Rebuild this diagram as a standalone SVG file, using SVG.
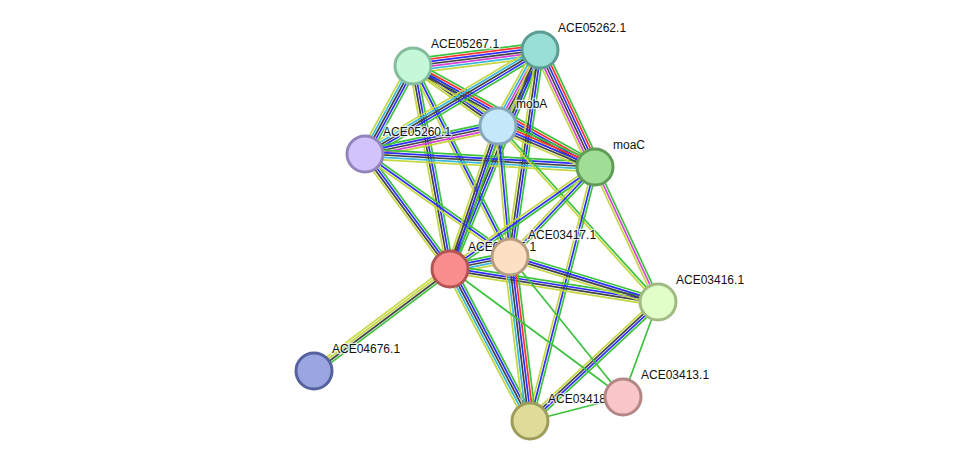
<svg xmlns="http://www.w3.org/2000/svg" width="976" height="467" viewBox="0 0 976 467">
<style>
#edges line{stroke-width:1.7;vector-effect:non-scaling-stroke;fill:none}
.g{stroke:#3cc23c}.r{stroke:#ff3030}.b{stroke:#2d2dff}.k{stroke:#444}.m{stroke:#d642d6}.c{stroke:#38b8dc}.y{stroke:#c4d642}
.node circle{stroke-width:3}
.node text{font-family:"Liberation Sans",Arial,sans-serif;font-size:12px;fill:#111;stroke:#fff;stroke-width:2.5;stroke-opacity:0.75;paint-order:stroke}
</style>
<rect width="976" height="467" fill="#fff"/>
<g id="edges">
<!-- A-B -->
<g transform="matrix(127 -16 0.125 0.992 413 66)"><line x2="1" y1="-7.2" y2="-7.2" class="g"/><line x2="1" y1="-4.8" y2="-4.8" class="r"/><line x2="1" y1="-2.4" y2="-2.4" class="b"/><line x2="1" class="k"/><line x2="1" y1="2.4" y2="2.4" class="m"/><line x2="1" y1="4.8" y2="4.8" class="c"/><line x2="1" y1="7.2" y2="7.2" class="y"/></g>
<!-- A-M -->
<g transform="matrix(85 60 -0.5767 0.817 413 66)"><line x2="1" y1="-3.6" y2="-3.6" class="g"/><line x2="1" y1="-1.2" y2="-1.2" class="b"/><line x2="1" y1="1.2" y2="1.2" class="k"/><line x2="1" y1="3.6" y2="3.6" class="y"/></g>
<!-- A-K -->
<g transform="matrix(182 101 -0.4852 0.8744 413 66)"><line x2="1" y1="-4.8" y2="-4.8" class="g"/><line x2="1" y1="-2.4" y2="-2.4" class="r"/><line x2="1" class="b"/><line x2="1" y1="2.4" y2="2.4" class="k"/><line x2="1" y1="4.8" y2="4.8" class="y"/></g>
<!-- A-C -->
<g transform="matrix(-48 88 -0.8779 -0.4789 413 66)"><line x2="1" y1="-4.8" y2="-4.8" class="g"/><line x2="1" y1="-2.4" y2="-2.4" class="b"/><line x2="1" class="k"/><line x2="1" y1="2.4" y2="2.4" class="c"/><line x2="1" y1="4.8" y2="4.8" class="y"/></g>
<!-- A-R -->
<g transform="matrix(37 203 -0.9838 0.1793 413 66)"><line x2="1" y1="-3.6" y2="-3.6" class="g"/><line x2="1" y1="-1.2" y2="-1.2" class="b"/><line x2="1" y1="1.2" y2="1.2" class="k"/><line x2="1" y1="3.6" y2="3.6" class="y"/></g>
<!-- A-P -->
<g transform="matrix(97 191 -0.8916 0.4528 413 66)"><line x2="1" y1="-2.4" y2="-2.4" class="g"/><line x2="1" class="b"/><line x2="1" y1="2.4" y2="2.4" class="y"/></g>
<!-- B-C -->
<g transform="matrix(-175 104 -0.5109 -0.8597 540 50)"><line x2="1" y1="-4.8" y2="-4.8" class="g"/><line x2="1" y1="-2.4" y2="-2.4" class="b"/><line x2="1" class="k"/><line x2="1" y1="2.4" y2="2.4" class="c"/><line x2="1" y1="4.8" y2="4.8" class="y"/></g>
<!-- B-M -->
<g transform="matrix(-42 76 -0.8753 -0.4837 540 50)"><line x2="1" y1="-6" y2="-6" class="g"/><line x2="1" y1="-3.6" y2="-3.6" class="b"/><line x2="1" y1="-1.2" y2="-1.2" class="k"/><line x2="1" y1="1.2" y2="1.2" class="m"/><line x2="1" y1="3.6" y2="3.6" class="c"/><line x2="1" y1="6" y2="6" class="y"/></g>
<!-- B-K -->
<g transform="matrix(55 117 -0.905 0.4254 540 50)"><line x2="1" y1="-6" y2="-6" class="g"/><line x2="1" y1="-3.6" y2="-3.6" class="r"/><line x2="1" y1="-1.2" y2="-1.2" class="b"/><line x2="1" y1="1.2" y2="1.2" class="k"/><line x2="1" y1="3.6" y2="3.6" class="m"/><line x2="1" y1="6" y2="6" class="y"/></g>
<!-- B-R -->
<g transform="matrix(-90 219 -0.925 -0.3801 540 50)"><line x2="1" y1="-3.6" y2="-3.6" class="g"/><line x2="1" y1="-1.2" y2="-1.2" class="b"/><line x2="1" y1="1.2" y2="1.2" class="k"/><line x2="1" y1="3.6" y2="3.6" class="y"/></g>
<!-- B-P -->
<g transform="matrix(-30 207 -0.9897 -0.1434 540 50)"><line x2="1" y1="-3.6" y2="-3.6" class="g"/><line x2="1" y1="-1.2" y2="-1.2" class="b"/><line x2="1" y1="1.2" y2="1.2" class="k"/><line x2="1" y1="3.6" y2="3.6" class="y"/></g>
<!-- C-M -->
<g transform="matrix(133 -28 0.206 0.9786 365 154)"><line x2="1" y1="-4.8" y2="-4.8" class="g"/><line x2="1" y1="-2.4" y2="-2.4" class="b"/><line x2="1" class="k"/><line x2="1" y1="2.4" y2="2.4" class="m"/><line x2="1" y1="4.8" y2="4.8" class="y"/></g>
<!-- C-K -->
<g transform="matrix(230 13 -0.0564 0.9984 365 154)"><line x2="1" y1="-4.8" y2="-4.8" class="g"/><line x2="1" y1="-2.4" y2="-2.4" class="b"/><line x2="1" class="k"/><line x2="1" y1="2.4" y2="2.4" class="c"/><line x2="1" y1="4.8" y2="4.8" class="y"/></g>
<!-- C-R -->
<g transform="matrix(85 115 -0.8042 0.5944 365 154)"><line x2="1" y1="-3.6" y2="-3.6" class="g"/><line x2="1" y1="-1.2" y2="-1.2" class="b"/><line x2="1" y1="1.2" y2="1.2" class="k"/><line x2="1" y1="3.6" y2="3.6" class="y"/></g>
<!-- C-P -->
<g transform="matrix(145 103 -0.5791 0.8153 365 154)"><line x2="1" y1="-2.4" y2="-2.4" class="g"/><line x2="1" class="b"/><line x2="1" y1="2.4" y2="2.4" class="y"/></g>
<!-- M-K -->
<g transform="matrix(97 41 -0.3893 0.9211 498 126)"><line x2="1" y1="-4.8" y2="-4.8" class="g"/><line x2="1" y1="-2.4" y2="-2.4" class="r"/><line x2="1" class="b"/><line x2="1" y1="2.4" y2="2.4" class="k"/><line x2="1" y1="4.8" y2="4.8" class="y"/></g>
<!-- M-R -->
<g transform="matrix(-48 143 -0.948 -0.3182 498 126)"><line x2="1" y1="-3.6" y2="-3.6" class="g"/><line x2="1" y1="-1.2" y2="-1.2" class="b"/><line x2="1" y1="1.2" y2="1.2" class="k"/><line x2="1" y1="3.6" y2="3.6" class="y"/></g>
<!-- M-P -->
<g transform="matrix(12 131 -0.9958 0.0912 498 126)"><line x2="1" y1="-2.4" y2="-2.4" class="g"/><line x2="1" class="b"/><line x2="1" y1="2.4" y2="2.4" class="y"/></g>
<!-- M-Q -->
<g transform="matrix(160 176 -0.7399 0.6727 498 126)"><line x2="1" y1="-1.2" y2="-1.2" class="g"/><line x2="1" y1="1.2" y2="1.2" class="y"/></g>
<!-- K-R -->
<g transform="matrix(-145 102 -0.5754 -0.8179 595 167)"><line x2="1" y1="-2.4" y2="-2.4" class="g"/><line x2="1" class="b"/><line x2="1" y1="2.4" y2="2.4" class="y"/></g>
<!-- K-P -->
<g transform="matrix(-85 90 -0.727 -0.6866 595 167)"><line x2="1" y1="-2.4" y2="-2.4" class="g"/><line x2="1" class="b"/><line x2="1" y1="2.4" y2="2.4" class="y"/></g>
<!-- K-Q -->
<g transform="matrix(63 135 -0.9062 0.4229 595 167)"><line x2="1" y1="-2.4" y2="-2.4" class="g"/><line x2="1" class="m"/><line x2="1" y1="2.4" y2="2.4" class="y"/></g>
<!-- K-Y -->
<g transform="matrix(-65 254 -0.9688 -0.2479 595 167)"><line x2="1" y1="-2.4" y2="-2.4" class="g"/><line x2="1" class="b"/><line x2="1" y1="2.4" y2="2.4" class="y"/></g>
<!-- R-P -->
<g transform="matrix(60 -12 0.1961 0.9806 450 269)"><line x2="1" y1="-4.8" y2="-4.8" class="g"/><line x2="1" y1="-2.4" y2="-2.4" class="b"/><line x2="1" class="k"/><line x2="1" y1="2.4" y2="2.4" class="c"/><line x2="1" y1="4.8" y2="4.8" class="y"/></g>
<!-- R-Q -->
<g transform="matrix(208 33 -0.1567 0.9877 450 269)"><line x2="1" y1="-3.6" y2="-3.6" class="g"/><line x2="1" y1="-1.2" y2="-1.2" class="b"/><line x2="1" y1="1.2" y2="1.2" class="k"/><line x2="1" y1="3.6" y2="3.6" class="y"/></g>
<!-- P-Q -->
<g transform="matrix(148 45 -0.2909 0.9568 510 257)"><line x2="1" y1="-3.6" y2="-3.6" class="g"/><line x2="1" y1="-1.2" y2="-1.2" class="b"/><line x2="1" y1="1.2" y2="1.2" class="k"/><line x2="1" y1="3.6" y2="3.6" class="y"/></g>
<!-- R-W -->
<g transform="matrix(-136 102 -0.6 -0.8 450 269)"><line x2="1" y1="-3.6" y2="-3.6" class="g"/><line x2="1" y1="-1.2" y2="-1.2" class="k"/><line x2="1" y1="1.2" y2="1.2" class="y"/><line x2="1" y1="3.6" y2="3.6" class="y"/></g>
<!-- R-Y -->
<g transform="matrix(80 152 -0.8849 0.4657 450 269)"><line x2="1" y1="-4.8" y2="-4.8" class="g"/><line x2="1" y1="-2.4" y2="-2.4" class="b"/><line x2="1" class="k"/><line x2="1" y1="2.4" y2="2.4" class="c"/><line x2="1" y1="4.8" y2="4.8" class="y"/></g>
<!-- P-Y -->
<g transform="matrix(20 164 -0.9927 0.1211 510 257)"><line x2="1" y1="-6" y2="-6" class="g"/><line x2="1" y1="-3.6" y2="-3.6" class="r"/><line x2="1" y1="-1.2" y2="-1.2" class="b"/><line x2="1" y1="1.2" y2="1.2" class="k"/><line x2="1" y1="3.6" y2="3.6" class="c"/><line x2="1" y1="6" y2="6" class="y"/></g>
<!-- Q-Y -->
<g transform="matrix(-128 119 -0.6809 -0.7324 658 302)"><line x2="1" y1="-3.6" y2="-3.6" class="g"/><line x2="1" y1="-1.2" y2="-1.2" class="b"/><line x2="1" y1="1.2" y2="1.2" class="k"/><line x2="1" y1="3.6" y2="3.6" class="y"/></g>
<!-- single green edges -->
<line x1="450" y1="269" x2="623" y2="397" class="g"/>
<line x1="510" y1="257" x2="623" y2="397" class="g"/>
<line x1="658" y1="302" x2="623" y2="397" class="g"/>
<line x1="623" y1="397" x2="530" y2="421" class="g"/>
</g>
<g id="n-ACE05267" class="node"><circle cx="413" cy="66" r="18" fill="#c4f8d8" stroke="#84bc9e"/><text x="431" y="48">ACE05267.1</text></g>
<g id="n-ACE05262" class="node"><circle cx="540" cy="50" r="18" fill="#98e0d6" stroke="#5c9c94"/><text x="558" y="32">ACE05262.1</text></g>
<g id="n-mobA" class="node"><circle cx="498" cy="126" r="18" fill="#c4e8fa" stroke="#86a8ba"/><text x="516" y="108">mobA</text></g>
<g id="n-ACE05260" class="node"><circle cx="365" cy="154" r="18" fill="#d2c4fa" stroke="#9484be"/><text x="383" y="136">ACE05260.1</text></g>
<g id="n-moaC" class="node"><circle cx="595" cy="167" r="18" fill="#a0de96" stroke="#609c58"/><text x="613" y="149">moaC</text></g>
<g id="n-ACE03416" class="node"><circle cx="658" cy="302" r="18" fill="#e0fec6" stroke="#a0ba82"/><text x="676" y="284">ACE03416.1</text></g>
<g id="n-ACE04676" class="node"><circle cx="314" cy="371" r="18" fill="#9aa6e2" stroke="#56629e"/><text x="332" y="353">ACE04676.1</text></g>
<g id="n-ACE03418" class="node"><circle cx="530" cy="421" r="18" fill="#dedc98" stroke="#9e9c5a"/><text x="548" y="403">ACE03418.1</text></g>
<g id="n-ACE03413" class="node"><circle cx="623" cy="397" r="18" fill="#f8c6c6" stroke="#b48686"/><text x="641" y="379">ACE03413.1</text></g>
<g id="n-ACE03415" class="node"><circle cx="450" cy="269" r="18" fill="#fa8e8e" stroke="#b45454"/><text x="468" y="251">ACE03415.1</text></g>
<g id="n-ACE03417" class="node"><circle cx="510" cy="257" r="18" fill="#fde0c2" stroke="#b89c80"/><text x="528" y="239">ACE03417.1</text></g>
</svg>
